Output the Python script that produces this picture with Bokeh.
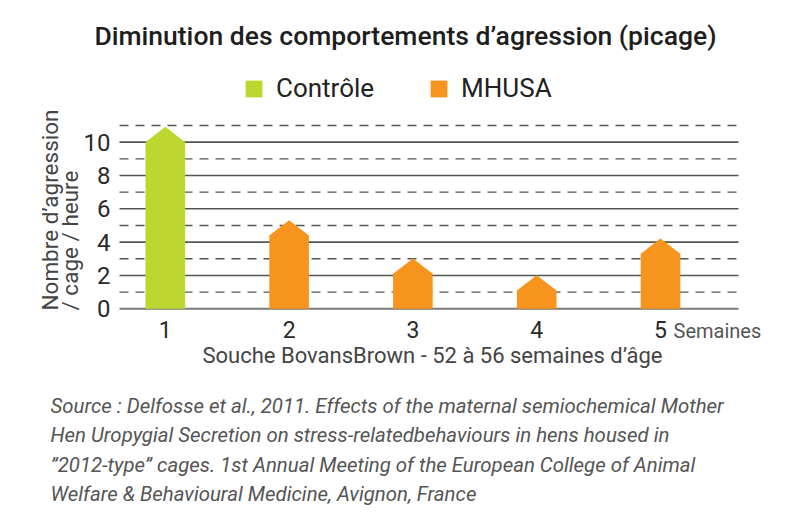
from bokeh.plotting import figure
from bokeh.models import Range1d, Label, Legend, LegendItem, ColumnDataSource
from bokeh.core.properties import value
from bokeh.embed import file_html
from bokeh.resources import INLINE
import math

# ---------------- data ----------------
weeks = [1, 2, 3, 4, 5]
groups = ["Contrôle", "MHUSA", "MHUSA", "MHUSA", "MHUSA"]
aggressions = [10.0, 4.4, 2.1, 1.1, 3.3]
y_ticks = [0, 2, 4, 6, 8, 10]
y_minor = [1, 3, 5, 7, 9, 11]
x_tick_labels = ["1", "2", "3", "4", "5"]

title_text = "Diminution des comportements d\u2019agression (picage)"
ylabel_lines = ["Nombre d\u2019agression", "/ cage / heure"]
xlabel_text = "Souche BovansBrown - 52 à 56 semaines d\u2019âge"
unit_text = "Semaines"
source_lines = [
    "Source : Delfosse et al., 2011. Effects of the maternal semiochemical Mother",
    "Hen Uropygial Secretion on stress-relatedbehaviours in hens housed in",
    "\u201d2012-type\u201d cages. 1st Annual Meeting of the European College of Animal",
    "Welfare & Behavioural Medicine, Avignon, France",
]

GREEN = "#bed630"
ORANGE = "#f7941d"
FONT = "Roboto"

# ---------------- layout (pixel geometry of the chart area) ----------------
W, H = 784, 509
PL, PR = 119, 738          # left / right of plotting area
PY0, PY11 = 308.3, 125.0    # pixel rows of y=0 and y=11
XA, XB = 0.63, 5.63         # data x at PL / PR

sx = (PR - PL) / (XB - XA)
sy = (PY0 - PY11) / 11.0
x_start = XA - PL / sx
x_end = XA + (W - PL) / sx
y_start = -(H - PY0) / sy
y_end = PY0 / sy

p = figure(width=W, height=H, output_backend="svg", toolbar_location=None,
           x_range=Range1d(x_start, x_end), y_range=Range1d(y_start, y_end),
           x_axis_location=None, y_axis_location=None,
           min_border=0)
p.outline_line_color = None
p.xgrid.visible = False
p.ygrid.visible = False
p.background_fill_color = "white"
p.border_fill_color = "white"


def dx(px):
    return XA + (px - PL) / sx


def dy(py):
    return (PY0 - py) / sy


# ---------------- grid ----------------
p.segment(x0=[XA] * len(y_minor), x1=[XB] * len(y_minor), y0=y_minor,
          y1=y_minor, line_color="#555555", line_width=1.4, line_dash="9 7")
p.segment(x0=[XA] * (len(y_ticks) - 1), x1=[XB] * (len(y_ticks) - 1),
          y0=y_ticks[1:], y1=y_ticks[1:], line_color="#555555",
          line_width=1.6)
p.segment(x0=[XA], x1=[XB], y0=[y_ticks[0]], y1=[y_ticks[0]],
          line_color="#7a7a7a", line_width=2)

# ---------------- bars (pentagon "arrows") ----------------
half_w = 0.16
tip = 0.92


def make_src(sel):
    xs, ys = [], []
    for w, g, v in zip(weeks, groups, aggressions):
        if g == sel:
            xs.append([w - half_w, w - half_w, w, w + half_w, w + half_w])
            ys.append([0, v, v + tip, v, 0])
    return ColumnDataSource(dict(xs=xs, ys=ys))


r_ctrl = p.patches("xs", "ys", source=make_src("Contrôle"), fill_color=GREEN,
                   line_color=None)
r_mh = p.patches("xs", "ys", source=make_src("MHUSA"), fill_color=ORANGE,
                 line_color=None)

# ---------------- tick labels ----------------
p.text(x=[dx(110)] * len(y_ticks), y=y_ticks, text=[str(t) for t in y_ticks],
       text_align="right", text_baseline="middle", text_font=value(FONT),
       text_font_size="24px", text_color="#2a2a2a")
p.text(x=weeks, y=[dy(329)] * len(weeks), text=x_tick_labels,
       text_align="center", text_baseline="middle", text_font=value(FONT),
       text_font_size="23px", text_color="#2a2a2a")

# ---------------- legend ----------------
legend = Legend(items=[LegendItem(label="Contrôle", renderers=[r_ctrl]),
                       LegendItem(label="MHUSA", renderers=[r_mh])],
                orientation="horizontal", location=(243, H - 103),
                glyph_width=21, glyph_height=21, label_standoff=12,
                spacing=54, padding=0, margin=0,
                label_text_font=FONT, label_text_font_size="26px",
                label_text_color="#222222", border_line_color=None,
                background_fill_alpha=0)
p.add_layout(legend)

# ---------------- texts ----------------
p.add_layout(Label(x=dx(405), y=dy(35), text=title_text, text_align="center",
                   text_baseline="middle", text_font="Roboto Medium",
                   text_font_size="26.5px", text_color="#1e1e1e"))

for i, line in enumerate(ylabel_lines):
    p.add_layout(Label(x=dx(49 + 20 * i), y=dy(310), text=line,
                       angle=math.pi / 2, text_align="left",
                       text_baseline="middle", text_font=FONT,
                       text_font_size="22.5px", text_color="#444444"))

p.add_layout(Label(x=dx(673), y=dy(330), text=unit_text, text_align="left",
                   text_baseline="middle", text_font=FONT,
                   text_font_size="20px", text_color="#555555"))

p.add_layout(Label(x=dx(432), y=dy(355), text=xlabel_text, text_align="center",
                   text_baseline="middle", text_font=FONT,
                   text_font_size="22px", text_color="#444444"))

for i, line in enumerate(source_lines):
    p.add_layout(Label(x=dx(50), y=dy(405 + 29.6 * i), text=line,
                       text_align="left", text_baseline="middle",
                       text_font=FONT, text_font_style="italic",
                       text_font_size="20.4px", text_color="#555555"))

open("out.html", "w").write(file_html(p, INLINE))
